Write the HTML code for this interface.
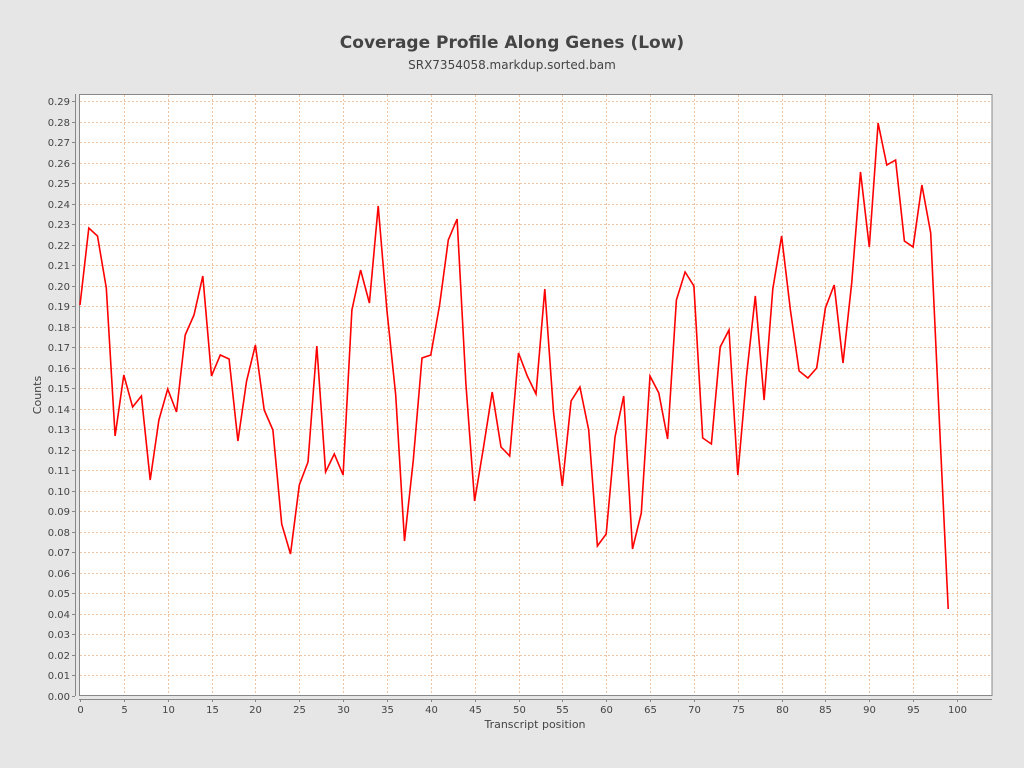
<!DOCTYPE html><html><head><style>body{margin:0;background:#e6e6e6}svg{display:block;font-family:"DejaVu Sans",sans-serif}</style></head><body>
<svg width="1024" height="768" xmlns="http://www.w3.org/2000/svg">
<rect width="1024" height="768" fill="#e6e6e6"/>
<text x="512" y="48" text-anchor="middle" font-size="17" font-weight="bold" fill="#444">Coverage Profile Along Genes (Low)</text>
<text x="512" y="69" text-anchor="middle" font-size="12" fill="#444">SRX7354058.markdup.sorted.bam</text>
<rect x="79.5" y="94.5" width="912.5" height="601" fill="#fff" stroke="#888"/>
<g id="grid" stroke="#f0c4a0" stroke-dasharray="2,2" stroke-width="1"></g>
<g id="ax" font-size="10" fill="#444"></g>
<polyline id="ln" fill="none" stroke="#ff0000" stroke-width="1.6"/>
<line x1="75.5" y1="94" x2="75.5" y2="696" stroke="#888"/>
<line x1="79" y1="699.5" x2="992" y2="699.5" stroke="#888"/>
<text x="41" y="395" font-size="11" fill="#444" text-anchor="middle" transform="rotate(-90 41 395)">Counts</text>
<text x="535" y="728" font-size="11" fill="#444" text-anchor="middle">Transcript position</text>
</svg>
<script>
var ns="http://www.w3.org/2000/svg",g=document.getElementById('grid'),ax=document.getElementById('ax');
function el(p,t,a,txt){var e=document.createElementNS(ns,t);for(var k in a)e.setAttribute(k,a[k]);if(txt!=null)e.textContent=txt;p.appendChild(e);}
var X=function(i){return 80+i*8.77},Y=function(v){return 695.5-v*2050};
for(var i=0;i<=29;i++){var y=Math.round(Y(i/100))+.5;if(i>0)el(g,'line',{x1:80,x2:992,y1:y,y2:y});el(ax,'line',{x1:72,x2:75,y1:y,y2:y,stroke:'#888'});el(ax,'text',{x:70,y:y+3.5,'text-anchor':'end'},(i/100).toFixed(2));}
for(var i=0;i<=100;i+=5){var x=Math.round(X(i))+.5;if(i>0)el(g,'line',{x1:x,x2:x,y1:95,y2:695});el(ax,'line',{x1:x,x2:x,y1:699,y2:702,stroke:'#888'});el(ax,'text',{x:x,y:713,'text-anchor':'middle'},i);}
var py=[305,228,236,288,436,375,407,396,480,420,389,412,335,315,276,376,355,359,441,381,345,410,430,524,554,485,462,346,472,454,475,310,270,303,206,310,395,541,460,358,355,305,240,219,384,501,448,392,447,456,353,376,394,289,413,486,401,387,430,546,534,437,396,549,513,376,393,439,300,272,286,438,444,347,330,475,376,296,400,289,236,310,371,378,368,308,285,363,282,172,247,123,165,160,241,247,185,233,424,609];
document.getElementById('ln').setAttribute('points',py.map(function(y,i){return X(i).toFixed(1)+','+y}).join(' '));
</script>
</body></html>
